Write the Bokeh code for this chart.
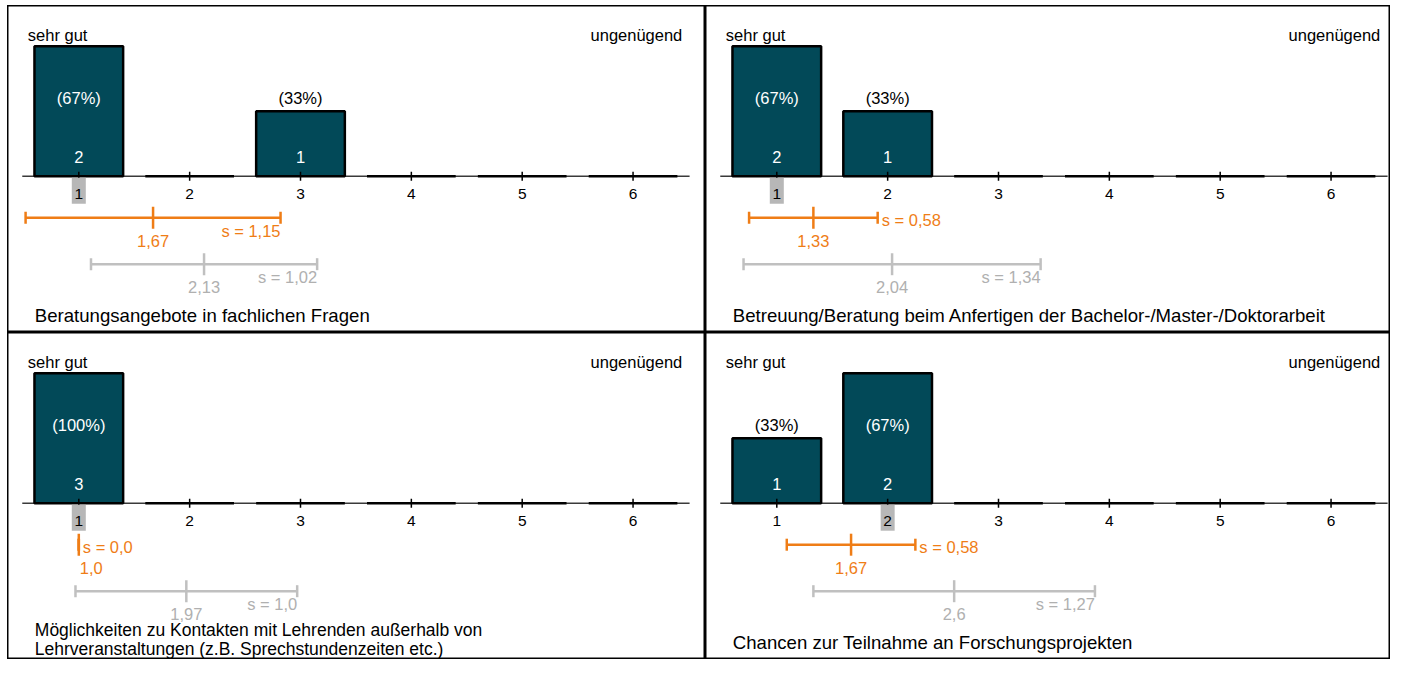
import statistics
from bokeh.plotting import figure
from bokeh.models import Range1d
from bokeh.layouts import gridplot
from bokeh.core.properties import value
from bokeh.embed import file_html
from bokeh.resources import INLINE

# ---------------- data ----------------
categories = [1, 2, 3, 4, 5, 6]
tick_labels = ["1", "2", "3", "4", "5", "6"]
left_label = "sehr gut"
right_label = "ungenügend"

counts_p1 = [2, 0, 1, 0, 0, 0]
counts_p2 = [2, 1, 0, 0, 0, 0]
counts_p3 = [3, 0, 0, 0, 0, 0]
counts_p4 = [1, 2, 0, 0, 0, 0]

title_p1 = ["Beratungsangebote in fachlichen Fragen"]
title_p2 = ["Betreuung/Beratung beim Anfertigen der Bachelor-/Master-/Doktorarbeit"]
title_p3 = ["Möglichkeiten zu Kontakten mit Lehrenden außerhalb von",
            "Lehrveranstaltungen (z.B. Sprechstundenzeiten etc.)"]
title_p4 = ["Chancen zur Teilnahme an Forschungsprojekten"]

mean_own = [1.67, 1.33, 1.0, 1.67]
sd_own = [1.15, 0.58, 0.0, 0.58]
mean_ref = [2.13, 2.04, 1.97, 2.6]
sd_ref = [1.02, 1.34, 1.0, 1.27]

# ---------------- style ----------------
FONT = value("Liberation Sans")
BAR = "#024958"
ORANGE = "#ef7d16"
GRAY_LINE = "#c0c0c0"
GRAY_TEXT = "#b0b0b0"
SP = 110.85          # px per category step
s_label_pos = ["below", "right", "right", "right"]


def fmt(v):
    return str(v).replace(".", ",")


def make_panel(counts, title_lines, m, s, mr, sr, W, H, B, c1, s_pos):
    x_range = Range1d(1 - c1 / SP, 1 + (W - c1) / SP)
    ppc = 130.0 / max(counts)
    y_range = Range1d(-(H - B) / ppc, B / ppc)
    p = figure(width=W, height=H, x_range=x_range, y_range=y_range,
               output_backend="svg", toolbar_location=None,
               x_axis_type=None, y_axis_type=None, min_border=0,
               outline_line_color="black", outline_line_width=2,
               background_fill_color="white", border_fill_color="white")
    p.extra_y_ranges = {"px": Range1d(H, 0)}

    def txt(x, y, t, color="black", size="16.5px", align="center", xo=0):
        p.text(x=x, y=y, text=t, y_range_name="px", text_align=align,
               text_baseline="middle", text_font=FONT, text_font_size=size,
               text_color=color, x_offset=xo)

    # axis baseline
    p.segment(x0=[0.49], y0=[0], x1=[6.51], y1=[0], line_color="#3a3a3a", line_width=1.5)
    # bars
    p.vbar(x=categories, top=counts, bottom=0, width=0.8, fill_color=BAR,
           line_color="black", line_width=2.5)
    # tick marks
    p.segment(x0=categories, y0=[B - 4.5] * 6, x1=categories, y1=[B + 4.5] * 6,
              y_range_name="px", line_color="black", line_width=1.5)
    # median highlight
    vals = [c for c, n in zip(categories, counts) for _ in range(n)]
    med = statistics.median(vals)
    p.rect(x=[med], y=[B + 14.5], width=14, height=26, width_units="screen",
           height_units="screen", y_range_name="px", fill_color="#b7b7b7", line_color=None)
    txt(categories, [B + 17.5] * 6, tick_labels, size="15.5px")

    total = sum(counts)
    for c, n in zip(categories, counts):
        if n == 0:
            continue
        inside = n * ppc > 90
        txt([c], [B - 78], ["(%d%%)" % round(100 * n / total)],
            color="white" if inside else "black")
        txt([c], [B - 19], [str(n)], color="white")

    txt([1 - 51 / SP], [B - 141], [left_label], align="left")
    txt([1 + 603.5 / SP], [B - 141], [right_label], align="right")

    def err(mv, sv, yl, lc, tc, pos):
        p.segment(x0=[mv - sv], y0=[yl], x1=[mv + sv], y1=[yl], y_range_name="px",
                  line_color=lc, line_width=2.5)
        p.segment(x0=[mv - sv, mv + sv], y0=[yl - 6, yl - 6], x1=[mv - sv, mv + sv],
                  y1=[yl + 6, yl + 6], y_range_name="px", line_color=lc, line_width=2.5)
        p.segment(x0=[mv], y0=[yl - 11], x1=[mv], y1=[yl + 11], y_range_name="px",
                  line_color=lc, line_width=2.5)
        if sv == 0:
            txt([mv], [yl + 23], [fmt(mv)], color=tc, align="left", xo=1)
        else:
            txt([mv], [yl + 23], [fmt(mv)], color=tc)
        if pos == "right":
            txt([mv + sv], [yl + 2.5], ["s = " + fmt(sv)], color=tc, align="left", xo=4)
        else:
            txt([mv + sv], [yl + 13], ["s = " + fmt(sv)], color=tc, align="right")

    err(m, s, B + 41.5, ORANGE, ORANGE, s_pos)
    err(mr, sr, B + 88, GRAY_LINE, GRAY_TEXT, "below")

    if len(title_lines) == 1:
        txt([1 - 44 / SP], [B + 139], title_lines, size="18.6px", align="left")
    else:
        for i, line in enumerate(title_lines):
            txt([1 - 44 / SP], [B + 127 + 19 * i], [line], size="17.5px", align="left")
    return p


W1, W2 = 698, 685
H1, H2 = 327, 327
B, C1 = 170.7, 71.3
p1 = make_panel(counts_p1, title_p1, mean_own[0], sd_own[0], mean_ref[0], sd_ref[0],
                W1, H1, B, C1, s_label_pos[0])
p2 = make_panel(counts_p2, title_p2, mean_own[1], sd_own[1], mean_ref[1], sd_ref[1],
                W2, H1, B, C1, s_label_pos[1])
p3 = make_panel(counts_p3, title_p3, mean_own[2], sd_own[2], mean_ref[2], sd_ref[2],
                W1, H2, B, C1, s_label_pos[2])
p4 = make_panel(counts_p4, title_p4, mean_own[3], sd_own[3], mean_ref[3], sd_ref[3],
                W2, H2, B, C1, s_label_pos[3])

grid = gridplot([[p1, p2], [p3, p4]], toolbar_location=None)
grid.margin = (5, 0, 0, 7)
open("out.html", "w").write(file_html(grid, INLINE))
